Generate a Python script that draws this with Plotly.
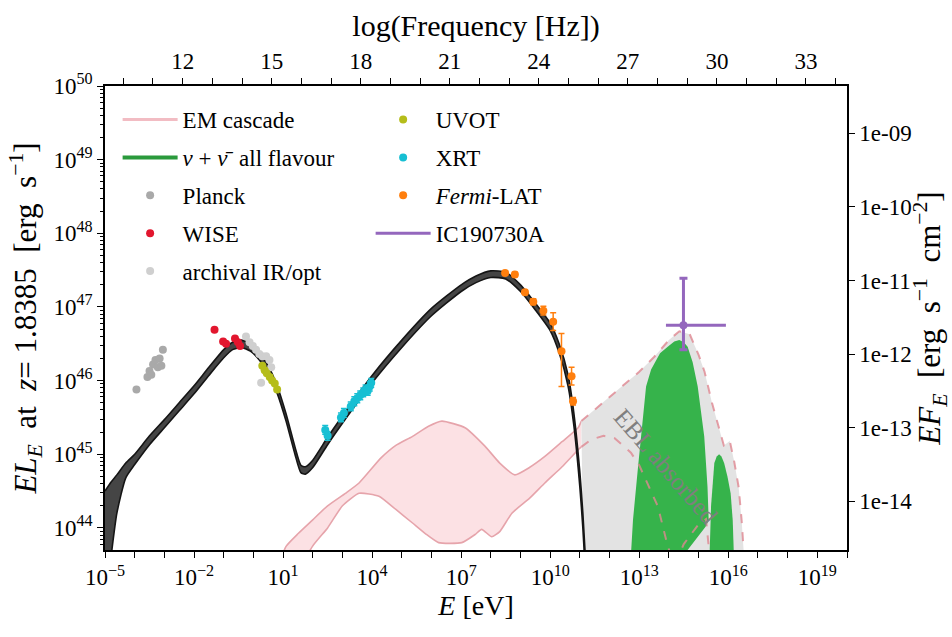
import numpy as np
import plotly.graph_objects as go

# ---------------- data (log10 values) ----------------
# Black leptohadronic model band: log10(E/eV), upper / lower log10(E L_E)
model_logE = [-5.0, -4.8, -4.6, -4.3, -4.0, -3.5, -3.0, -2.5, -2.0, -1.5, -1.0, -0.7, -0.4, -0.1,
              0.2, 0.5, 0.8, 1.1, 1.4, 1.6, 1.75, 2.0, 2.5, 3.0, 4.0, 5.0, 6.0, 7.0, 7.5, 8.0,
              8.5, 9.0, 9.5, 10.0, 10.3, 10.6, 10.8, 11.0, 11.1, 11.2]
model_hi = [44.50, 44.62, 44.72, 44.88, 45.00, 45.25, 45.47, 45.70, 45.93, 46.18, 46.42, 46.52, 46.55, 46.50,
            46.38, 46.20, 45.93, 45.55, 45.10, 44.85, 44.83, 44.92, 45.23, 45.52, 46.07, 46.55, 46.98, 47.30, 47.42, 47.49,
            47.47, 47.30, 47.05, 46.78, 46.50, 46.08, 45.55, 44.75, 44.20, 43.50]
model_lo = [43.00, 43.60, 44.20, 44.68, 44.86, 45.13, 45.36, 45.59, 45.82, 46.07, 46.31, 46.42, 46.45, 46.40,
            46.28, 46.10, 45.83, 45.45, 45.00, 44.75, 44.73, 44.82, 45.13, 45.42, 45.97, 46.45, 46.88, 47.21, 47.33, 47.40,
            47.38, 47.21, 46.96, 46.68, 46.38, 45.93, 45.38, 44.55, 44.00, 43.30]

# EM cascade band (solid)
casc_up_logE = [0.9, 1.1, 1.5, 2.0, 2.5, 3.1, 3.56, 4.3, 4.8, 5.35, 5.9, 6.35, 7.13, 7.8, 8.3, 8.81, 9.3, 9.82,
                10.4, 10.94, 11.05]
casc_up = [43.55, 43.75, 43.92, 44.11, 44.30, 44.47, 44.61, 44.95, 45.12, 45.24, 45.38, 45.45, 45.36, 45.11,
           44.88, 44.72, 44.82, 44.97, 45.17, 45.36, 45.45]
casc_lo_logE = [1.0, 1.99, 2.5, 3.0, 3.56, 4.23, 4.8, 5.35, 5.8, 6.24, 7.02, 7.47, 7.69, 8.03, 8.3, 8.71, 9.3,
                9.82, 10.4, 10.94, 11.05]
casc_lo = [43.0, 43.75, 44.00, 44.30, 44.47, 44.43, 44.25, 44.07, 43.92, 43.80, 43.80, 43.91, 43.98, 43.88,
           43.95, 44.20, 44.40, 44.61, 44.83, 45.06, 45.10]

# EBL-absorbed part of the cascade (dashed)
ebl_up_logE = [11.05, 12.0, 13.0, 13.5, 14.0, 14.35, 14.7, 15.0, 15.2, 15.45, 15.65, 15.85, 15.95, 16.05, 16.2,
               16.35, 16.45, 16.55]
ebl_up = [45.45, 45.78, 46.12, 46.32, 46.55, 46.67, 46.63, 46.35, 46.12, 45.70, 45.42, 45.12, 45.15, 45.18, 44.90,
          44.55, 44.10, 43.50]
ebl_lo_logE = [11.05, 11.38, 11.8, 12.16, 12.5, 12.72, 13.0, 13.29, 13.63, 13.96, 14.2, 14.5, 15.0, 15.25, 15.4]
ebl_lo = [45.10, 45.20, 45.25, 45.22, 45.10, 45.02, 44.85, 44.60, 44.29, 43.75, 43.50, 43.78, 44.05, 44.12, 43.50]

# neutrino band (two humps): outline points
nu1_logE = [12.70, 12.79, 12.95, 13.12, 13.23, 13.40, 13.70, 13.96, 14.18, 14.35, 14.50, 14.63, 14.80, 14.97,
            15.08, 15.19, 15.30, 15.34, 15.24, 14.95, 14.63, 14.50]
nu1_logL = [43.50, 44.11, 44.79, 45.47, 45.92, 46.15, 46.37, 46.46, 46.53, 46.55, 46.52, 46.46, 46.25, 45.92,
            45.60, 45.24, 44.56, 44.10, 44.02, 43.86, 43.70, 43.50]
nu2_logE = [15.36, 15.42, 15.53, 15.61, 15.69, 15.77, 15.86, 15.97, 16.08, 16.15, 16.20]
nu2_logL = [43.50, 44.30, 44.88, 44.97, 45.00, 44.97, 44.88, 44.70, 44.47, 44.10, 43.50]

# observations
planck_logE = [-3.94, -3.57, -3.50, -3.44, -3.38, -3.30, -3.22, -3.16, -3.10, -3.05]
planck_logL = [45.88, 46.05, 46.13, 46.08, 46.22, 46.28, 46.18, 46.30, 46.20, 46.42]
wise_logE = [-1.31, -1.02, -0.92, -0.62, -0.52, -0.45]
wise_logL = [46.69, 46.53, 46.50, 46.57, 46.52, 46.47]
arch_logE = [-0.25, -0.13, -0.02, 0.09, 0.20, 0.30, 0.43, 0.54, 0.60, 0.26]
arch_logL = [46.60, 46.52, 46.47, 46.42, 46.36, 46.33, 46.33, 46.28, 46.18, 45.97]
uvot_logE = [0.30, 0.38, 0.45, 0.55, 0.63, 0.72, 0.80]
uvot_logL = [46.20, 46.14, 46.10, 46.05, 46.00, 45.96, 45.88]
xrt_logE = [2.42, 2.50, 2.95, 3.05, 3.28, 3.40, 3.50, 3.60, 3.70, 3.78, 3.85, 3.92, 3.97]
xrt_logL = [45.33, 45.25, 45.50, 45.56, 45.65, 45.72, 45.76, 45.80, 45.84, 45.88, 45.86, 45.92, 45.97]
xrt_err = [0.06] * 13
fermi_logE = [8.48, 8.81, 9.15, 9.43, 9.77, 10.10, 10.38, 10.72, 10.77]
fermi_logL = [47.46, 47.44, 47.20, 47.07, 46.95, 46.80, 46.40, 46.06, 45.72]
fermi_err_up = [0.03, 0.03, 0.03, 0.04, 0.06, 0.12, 0.24, 0.12, 0.05]
fermi_err_dn = [0.03, 0.03, 0.03, 0.04, 0.06, 0.12, 0.48, 0.12, 0.05]
ic_logE = 14.49
ic_logE_range = [13.90, 15.92]
ic_logL = 46.75
ic_logL_range = [46.42, 47.39]

# axes
X_RANGE = [-5, 20]
Y_RANGE = [43.7, 50]
FLUX_OFFSET = 58.36          # log10(4 pi d_L^2) used for the right-hand axis
LOG_INV_H = 14.3835          # log10(1/h) in Hz/eV for the top axis
FLOOR = 43.0                 # below the plotted range (for closing fills)

FONT = "Liberation Serif, DejaVu Serif, serif"
p = lambda a: 10.0 ** np.asarray(a, dtype=float)

fig = go.Figure()

# EM cascade band
fig.add_trace(go.Scatter(x=p(casc_lo_logE), y=p(casc_lo), mode="lines",
                         line=dict(color="#e6a4ab", width=1.6, shape="spline", smoothing=0.5),
                         showlegend=False))
fig.add_trace(go.Scatter(x=p(casc_up_logE), y=p(casc_up), mode="lines", fill="tonexty",
                         fillcolor="rgba(245,170,178,0.35)",
                         line=dict(color="#e6a4ab", width=1.6, shape="spline", smoothing=0.5),
                         showlegend=False))
# EBL-absorbed grey region
gx = [11.13] + ebl_up_logE + [ebl_up_logE[-1]]
gy = [FLOOR] + ebl_up + [FLOOR]
fig.add_trace(go.Scatter(x=p(gx), y=p(gy), mode="lines", fill="toself",
                         fillcolor="#e3e3e3", line=dict(width=0), showlegend=False))
# neutrino humps
for xs, ys in [(nu1_logE, nu1_logL), (nu2_logE, nu2_logL)]:
    fig.add_trace(go.Scatter(x=p(xs), y=p(ys), mode="lines", fill="toself", fillcolor="#36b34b",
                             line=dict(width=0, color="#36b34b"), showlegend=False))
# dashed EBL-absorbed edges
for xs, ys in [(ebl_up_logE, ebl_up), (ebl_lo_logE, ebl_lo)]:
    fig.add_trace(go.Scatter(x=p(xs), y=p(ys), mode="lines",
                             line=dict(color="rgba(222,135,145,0.8)", width=2, dash="dash"),
                             showlegend=False))
# black model band
fig.add_trace(go.Scatter(x=p(model_logE), y=p(model_lo), mode="lines",
                         line=dict(color="#151515", width=1.6, shape="spline", smoothing=0.6),
                         showlegend=False))
fig.add_trace(go.Scatter(x=p(model_logE), y=p(model_hi), mode="lines", fill="tonexty",
                         fillcolor="#454545",
                         line=dict(color="#151515", width=1.6, shape="spline", smoothing=0.6),
                         showlegend=False))

# legend-only line entries
fig.add_trace(go.Scatter(x=[None], y=[None], mode="lines", name="EM cascade",
                         line=dict(color="#f2bcc3", width=3), legend="legend", legendgroup="a"))
fig.add_trace(go.Scatter(x=[None], y=[None], mode="lines",
                         name="<i>ν</i> + <i>ν̄</i>&nbsp; all flavour",
                         line=dict(color="#2a9a3c", width=4), legend="legend", legendgroup="b"))


def pts(name, lx, ly, color, legend, group, eu=None, ed=None):
    x = p(lx)
    y = p(ly)
    err = None
    if eu is not None:
        eu = np.asarray(eu)
        ed = np.asarray(ed if ed is not None else eu)
        err = dict(type="data", symmetric=False, array=y * (10 ** eu - 1),
                   arrayminus=y * (1 - 10 ** (-ed)), color=color, thickness=1.5, width=3)
    fig.add_trace(go.Scatter(x=x, y=y, mode="markers", name=name,
                             marker=dict(color=color, size=8, line=dict(width=0)),
                             error_y=err, legend=legend, legendgroup=group))


pts("Planck", planck_logE, planck_logL, "#a9a9a9", "legend", "c")
pts("WISE", wise_logE, wise_logL, "#e2162e", "legend", "d")
pts("archival IR/opt", arch_logE, arch_logL, "#cfcfcf", "legend", "e")
pts("UVOT", uvot_logE, uvot_logL, "#b5bd1a", "legend2", "f")
pts("XRT", xrt_logE, xrt_logL, "#17bfd3", "legend2", "g", xrt_err, xrt_err)
pts("<i>Fermi</i>-LAT", fermi_logE, fermi_logL, "#ff7f0e", "legend2", "h", fermi_err_up, fermi_err_dn)

icx, icy = 10.0 ** ic_logE, 10.0 ** ic_logL
fig.add_trace(go.Scatter(
    x=[icx], y=[icy], mode="markers", name="IC190730A",
    marker=dict(color="#9467bd", size=8),
    error_x=dict(type="data", symmetric=False, array=[10.0 ** ic_logE_range[1] - icx],
                 arrayminus=[icx - 10.0 ** ic_logE_range[0]], color="#9467bd", thickness=3, width=0),
    error_y=dict(type="data", symmetric=False, array=[10.0 ** ic_logL_range[1] - icy],
                 arrayminus=[icy - 10.0 ** ic_logL_range[0]], color="#9467bd", thickness=3, width=4),
    showlegend=False))
fig.add_trace(go.Scatter(x=[None], y=[None], mode="lines", name="IC190730A",
                         line=dict(color="#9467bd", width=3), legend="legend2", legendgroup="i"))

# invisible trace for secondary axes
fig.add_trace(go.Scatter(x=[X_RANGE[0] + LOG_INV_H], y=[10.0 ** (Y_RANGE[0] - FLUX_OFFSET)], xaxis="x2",
                         yaxis="y2", mode="markers", marker=dict(opacity=0), showlegend=False,
                         hoverinfo="skip"))

fig.add_annotation(x=13.89, y=44.83, xref="x", yref="y",
                   text="EBL absorbed", showarrow=False,
                   textangle=49, font=dict(family=FONT, size=25, color="#7f7f7f"))

# ---------------- axes ----------------
xdec = list(range(X_RANGE[0], X_RANGE[1] + 1))
xtext = [("10<sup>%s</sup>" % str(k).replace("-", "−")) if (k % 3 == 1) else "" for k in xdec]
ydec = list(range(44, 51))
ytext = ["10<sup>%d</sup>" % k for k in ydec]
yminor = [m * 10.0 ** k for k in range(43, 50) for m in range(2, 10)
          if Y_RANGE[0] <= np.log10(m * 10.0 ** k) <= Y_RANGE[1]]
top_vals = list(range(10, 35))
top_text = [str(v) if v % 3 == 0 else "" for v in top_vals]
r_dec = list(range(-14, -8))
r_text = ["1e-%02d" % (-k) for k in r_dec]

axis_common = dict(showline=True, linecolor="black", linewidth=1.5, ticks="outside", tickcolor="black",
                   tickwidth=1.3, showgrid=False, zeroline=False,
                   tickfont=dict(family=FONT, size=23, color="black"))

fig.update_layout(
    width=952, height=637,
    margin=dict(l=105, r=102, t=86, b=87),
    paper_bgcolor="white", plot_bgcolor="white",
    font=dict(family=FONT, size=22, color="black"),
    xaxis=dict(type="log", range=X_RANGE, tickvals=[10.0 ** k for k in xdec], ticktext=xtext, ticklen=6,
               title=dict(text="<i>E</i> [eV]", font=dict(family=FONT, size=28), standoff=4),
               **axis_common),
    xaxis2=dict(overlaying="x", side="top", range=[X_RANGE[0] + LOG_INV_H, X_RANGE[1] + LOG_INV_H],
                tickvals=top_vals, ticktext=top_text, ticklen=6,
                title=dict(text="log(Frequency [Hz])", font=dict(family=FONT, size=30), standoff=4),
                **axis_common),
    yaxis=dict(type="log", range=Y_RANGE, tickvals=[10.0 ** k for k in ydec], ticktext=ytext, ticklen=6,
               minor=dict(tickvals=yminor, ticks="outside", ticklen=3, tickcolor="black", tickwidth=1),
               title=dict(text="<i>EL<sub>E</sub></i>&nbsp; at&nbsp; <i>z</i>= 1.8385&nbsp; [erg&nbsp; s<sup>−1</sup>]",
                          font=dict(family=FONT, size=31), standoff=8),
               **axis_common),
    yaxis2=dict(type="log", overlaying="y", side="right",
                range=[Y_RANGE[0] - FLUX_OFFSET, Y_RANGE[1] - FLUX_OFFSET],
                tickvals=[10.0 ** k for k in r_dec], ticktext=r_text, ticklen=6,
                title=dict(text="<i>EF<sub>E</sub></i>&nbsp; [erg&nbsp; s<sup>−1</sup>&nbsp; cm<sup>−2</sup>]",
                           font=dict(family=FONT, size=31), standoff=6),
                **axis_common),
    legend=dict(x=0.017, y=0.974, xanchor="left", yanchor="top", bgcolor="rgba(0,0,0,0)",
                font=dict(family=FONT, size=23), itemwidth=55, tracegroupgap=5, traceorder="grouped"),
    legend2=dict(x=0.358, y=0.974, xanchor="left", yanchor="top", bgcolor="rgba(0,0,0,0)",
                 font=dict(family=FONT, size=23), itemwidth=55, tracegroupgap=5, traceorder="grouped"),
)

fig.write_html("out.html")
